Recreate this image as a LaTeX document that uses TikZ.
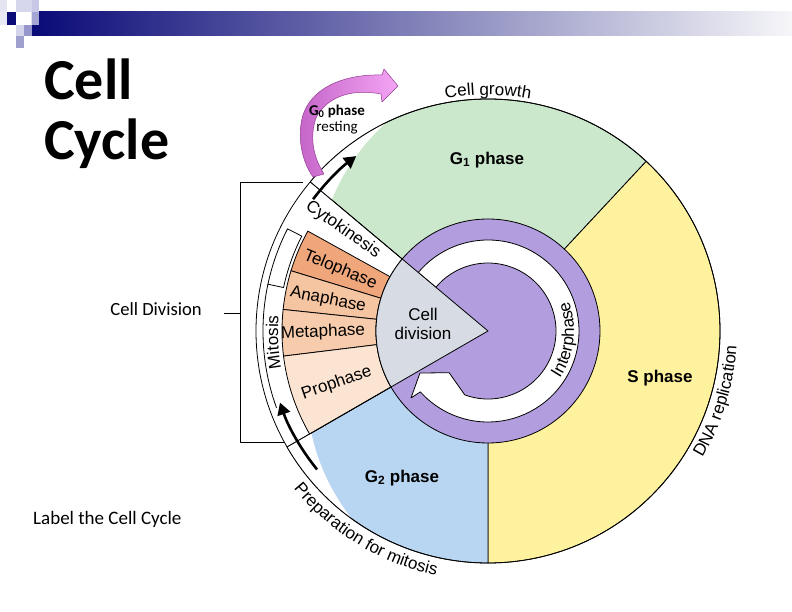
\documentclass[tikz,border=0pt]{standalone}
\usepackage{fontspec}
\setmainfont{Liberation Sans}
\newfontfamily\calib{Carlito}
\usetikzlibrary{decorations.text,arrows.meta}
\definecolor{gone}{RGB}{204,232,204}
\definecolor{sph}{RGB}{255,242,158}
\definecolor{gtwo}{RGB}{184,214,242}
\definecolor{purp}{RGB}{178,158,222}
\definecolor{cdiv}{RGB}{214,219,228}
\definecolor{telo}{RGB}{239,166,122}
\definecolor{ana}{RGB}{245,196,160}
\definecolor{meta}{RGB}{246,204,172}
\definecolor{pro}{RGB}{252,228,210}
\definecolor{gzeroL}{RGB}{196,100,200}
\definecolor{gzeroR}{RGB}{244,165,244}
\definecolor{gzeroE}{RGB}{150,60,150}
\definecolor{navy}{RGB}{10,10,120}
\definecolor{barmid}{RGB}{165,165,190}
\definecolor{barend}{RGB}{246,246,249}
\definecolor{sqA}{RGB}{228,228,242}
\definecolor{sqB}{RGB}{232,232,244}
\definecolor{sqC}{RGB}{214,214,236}
\definecolor{sqD}{RGB}{200,200,230}
\definecolor{sqE}{RGB}{165,165,212}
\definecolor{sqF}{RGB}{212,212,234}
\definecolor{sqG}{RGB}{150,150,205}
\definecolor{sqH}{RGB}{160,160,206}
\newcommand\cyc{\fontsize{17}{19}\selectfont}
\begin{document}
\begin{tikzpicture}[x=1pt,y=1pt,line join=round,
  ol/.style={draw=black,line width=0.8pt},
  lbl/.style={font=\fontsize{17}{18.5}\selectfont,inner sep=0pt},
  blbl/.style={font=\fontsize{17}{18.5}\selectfont\bfseries,inner sep=0pt},
  cal/.style={font=\calib\fontsize{18.6}{20}\selectfont,inner sep=0pt},
  cyclearrow/.style={line width=2.6pt,-{Triangle[length=12pt,width=13pt]}},
  curvetext/.style={decorate,decoration={text along path,text align=center,text={#1}}}]
\useasboundingbox (-488,-281) rectangle (304,331);
\fill[white] (-488,-281) rectangle (304,331);

% ---- top decoration (screen coordinates)
\begin{scope}[shift={(-488,331)},yscale=-1]
  \shade[left color=navy,middle color=barmid,right color=barend] (32,12) rectangle (792,36);
  \fill[sqA] (0,0) rectangle (7,12);
  \fill[sqB] (0,12) rectangle (7,25);
  \fill[navy] (7,12) rectangle (16,25);
  \fill[sqC] (16,0) rectangle (32,12);
  \fill[sqD] (32,0) rectangle (39,12);
  \fill[sqE] (32,12) rectangle (39,25);
  \fill[sqF] (16,25) rectangle (24,36);
  \fill[sqG] (24,25) rectangle (32,36);
  \fill[sqH] (16,36) rectangle (24,48);
\end{scope}

% ---- main sectors
\filldraw[fill=gone,ol] (0,0) -- (47:232) arc[start angle=47,end angle=140,radius=232] -- cycle;
\filldraw[fill=sph,ol] (0,0) -- (-90:232) arc[start angle=-90,end angle=47,radius=232] -- cycle;
\filldraw[fill=gtwo,ol] (0,0) -- (210:232) arc[start angle=210,end angle=270,radius=232] -- cycle;

% tapered white bands carrying the arrows
\fill[white] plot[domain=0:1,samples=25,variable=\t] ({140-24*\t}:{204+28*\t}) arc[start angle=116,end angle=140,radius=232] -- cycle;
\fill[white] plot[domain=0:1,samples=25,variable=\t] ({210+24*\t}:{204+28*\t}) arc[start angle=234,end angle=210,radius=232] -- cycle;

% ---- mitosis phases
\filldraw[fill=telo,ol] (151:112) arc[start angle=151,end angle=163,radius=112] -- (163:206) arc[start angle=163,end angle=151,radius=206] -- cycle;
\filldraw[fill=ana,ol] (163:112) arc[start angle=163,end angle=174,radius=112] -- (174:206) arc[start angle=174,end angle=163,radius=206] -- cycle;
\filldraw[fill=meta,ol] (174:112) arc[start angle=174,end angle=187,radius=112] -- (187:206) arc[start angle=187,end angle=174,radius=206] -- cycle;
\filldraw[fill=pro,ol] (187:112) arc[start angle=187,end angle=210,radius=112] -- (210:206) arc[start angle=210,end angle=187,radius=206] -- cycle;

% outer circle and boundaries
\draw[ol] (0,0) circle[radius=232];
\draw[ol] (140:112) -- (140:232);
\draw[ol] (210:112) -- (210:232);

% mitosis bracket band
\draw[ol,fill=white] (153:209) arc[start angle=153,end angle=168,radius=209] -- (168:225) arc[start angle=168,end angle=153,radius=225] -- cycle;
\draw[ol] (168:225) arc[start angle=168,end angle=200,radius=225];

% ---- interphase ring
\filldraw[fill=purp,ol] (0,0) circle[radius=112];
\filldraw[fill=white,ol] (140:91) arc[start angle=140,end angle=-138,radius=91] -- (-139:102) -- (-148.3:80) -- (-133:57) -- (-110:68) arc[start angle=-110,end angle=140,radius=68] -- cycle;
% cell division wedge
\filldraw[fill=cdiv,ol] (0,0) -- (140:112) arc[start angle=140,end angle=210,radius=112] -- cycle;

% ---- cycle arrows
\draw[cyclearrow] (143:219) arc[start angle=143,end angle=127,radius=219];
\draw[cyclearrow] (219:220) arc[start angle=219,end angle=199,radius=220];

% ---- labels
\node[blbl] (g1) at (-1,171) {G\textsubscript{1} phase};
\node[blbl] (s) at (172,-47) {S phase};
\node[blbl] (g2) at (-86,-147) {G\textsubscript{2} phase};
\node[lbl,align=center] (cd) at (-65,7) {Cell\\division};
\node[lbl,rotate=-35] (cyto) at (145:177) {Cytokinesis};
\node[lbl,rotate=-22.5] (telo) at (157.5:160) {Telophase};
\node[lbl,rotate=-11] (ana) at (169:163) {Anaphase};
\node[lbl,rotate=2] (meta) at (180.5:165) {Metaphase};
\node[lbl,rotate=19] (pro) at (199:160) {Prophase};

\path[curvetext={|\cyc|Cell growth}] (115:236) arc[start angle=115,end angle=65,radius=236];
\path[curvetext={|\cyc|DNA replication}] (-47:249) arc[start angle=-47,end angle=13,radius=249];
\path[curvetext={|\cyc|Preparation for mitosis}] (208.5:250) arc[start angle=208.5,end angle=268.5,radius=250];
\path[curvetext={|\cyc|Interphase}] (-46.5:86) arc[start angle=-46.5,end angle=33.5,radius=86];
\path[curvetext={|\cyc|Mitosis}] (213:210) arc[start angle=213,end angle=153,radius=210];

% ---- G0 arrow (screen coordinates)
\begin{scope}[shift={(-488,331)},yscale=-1]
  \path[draw=gzeroE,line width=0.5pt,left color=gzeroL,right color=gzeroR]
    (313,177) .. controls (301,160) and (297,135) .. (303,115)
    .. controls (311,90) and (340,74) .. (382,75) -- (384,69) -- (398,86) -- (382,102) -- (381,94)
    .. controls (350,88) and (326,98) .. (316,118)
    .. controls (310,135) and (312,155) .. (324,174) -- cycle;
\end{scope}
\node[font=\calib\fontsize{15}{17}\selectfont\bfseries,inner sep=0pt] (g0) at (-151,220) {G\textsubscript{0} phase};
\node[font=\calib\fontsize{15}{17}\selectfont,inner sep=0pt] (rest) at (-151,203) {resting};

% ---- Cell Division bracket
\coordinate (btop) at (-185,149);
\coordinate (bcorn1) at (-248,149);
\coordinate (bcorn2) at (-248,-111);
\coordinate (bbot) at (-203,-111);
\coordinate (tickA) at (-264,18);
\coordinate (tickB) at (-248,18);
\draw[line width=0.9pt] (btop) -- (bcorn1) -- (bcorn2) -- (bbot);
\draw[line width=0.9pt] (tickA) -- (tickB);
\node[cal,anchor=base east] (celldiv) at (-286,15) {Cell Division};
\node[cal,anchor=base west,font=\calib\fontsize{19}{21}\selectfont] (labelcc) at (-455,-194) {Label the Cell Cycle};

% ---- title
\node[font=\calib\bfseries\fontsize{58}{60}\selectfont,anchor=base west,inner sep=0pt] (t1) at (-444,231) {Cell};
\node[font=\calib\bfseries\fontsize{58}{60}\selectfont,anchor=base west,inner sep=0pt] (t2) at (-444,171) {Cycle};
\end{tikzpicture}
\end{document}
